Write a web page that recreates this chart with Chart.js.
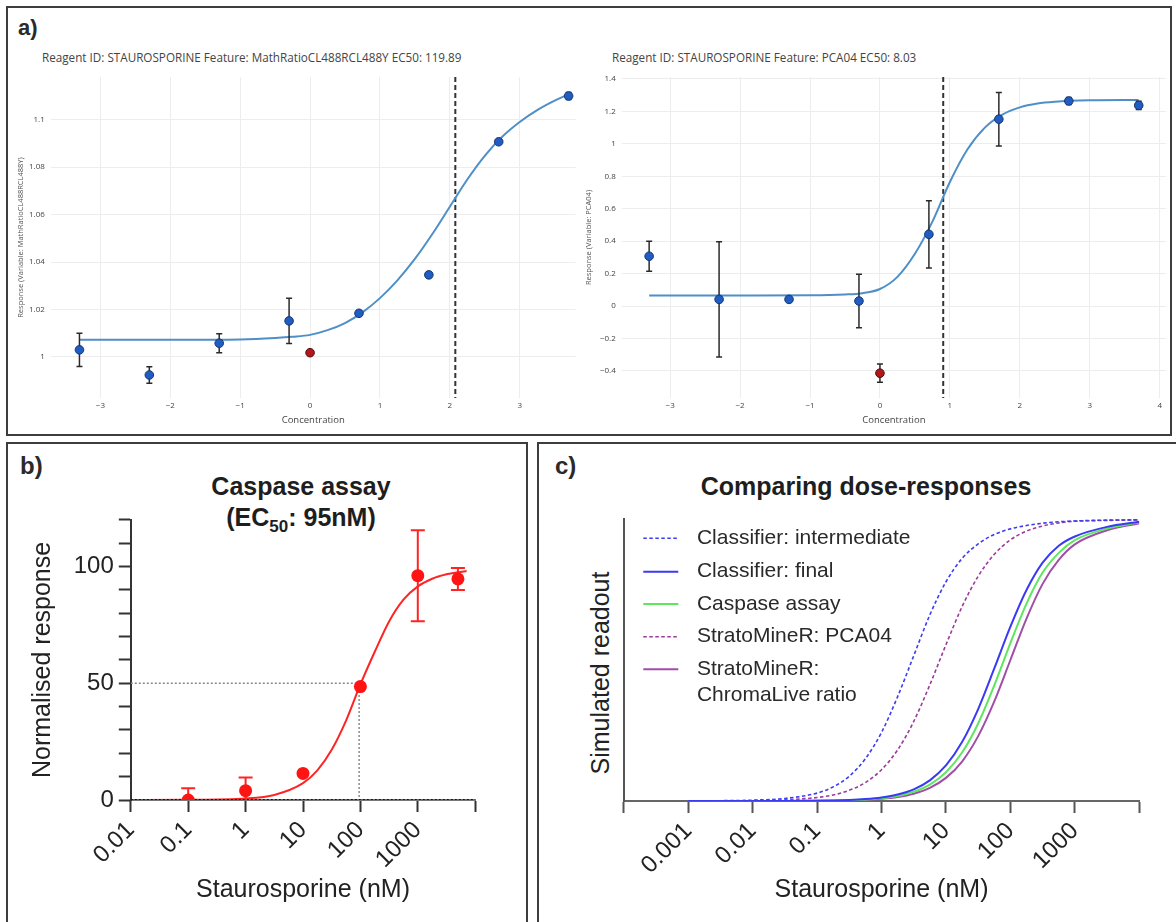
<!DOCTYPE html>
<html><head><meta charset="utf-8">
<script src="https://cdn.jsdelivr.net/npm/chart.js@4.4.1/dist/chart.umd.min.js"></script>
<style>
html,body{margin:0;padding:0;background:#fff;}
body{width:1176px;height:922px;position:relative;overflow:hidden;font-family:'Liberation Sans',Arial,sans-serif;}
.box{position:absolute;border:2px solid #3d3d3d;box-sizing:border-box;}
canvas{position:absolute;}
.lbl{position:absolute;font-weight:bold;color:#2a2a2a;white-space:nowrap;}
.ptitle{position:absolute;font-family:'Open Sans',sans-serif;font-size:11.7px;line-height:12px;color:#444;white-space:nowrap;}
.ttl{position:absolute;font-weight:bold;font-size:25px;line-height:25px;color:#1e1e1e;white-space:nowrap;transform:translateX(-50%);}
.ttl sub{font-size:17px;line-height:0;vertical-align:-6px;}
.vt{position:absolute;font-size:25px;line-height:25px;color:#222;white-space:nowrap;transform:translate(-50%,-50%) rotate(-90deg);}
</style></head>
<body>
<div class="box" style="left:6px;top:6px;width:1166px;height:430px"></div>
<div class="box" style="left:6px;top:442px;width:522px;height:500px"></div>
<div class="box" style="left:537px;top:442px;width:700px;height:500px"></div>

<div class="lbl" style="left:18px;top:17px;font-size:22px;line-height:22px">a)</div>
<div class="lbl" style="left:20px;top:454px;font-size:24px;line-height:24px">b)</div>
<div class="lbl" style="left:555px;top:454px;font-size:24px;line-height:24px">c)</div>

<div class="ptitle" style="left:42px;top:51px">Reagent ID: STAUROSPORINE Feature: MathRatioCL488RCL488Y EC50: 119.89</div>
<div class="ptitle" style="left:612px;top:51px">Reagent ID: STAUROSPORINE Feature: PCA04 EC50: 8.03</div>

<div class="ttl" style="left:301px;top:474px">Caspase assay</div>
<div class="ttl" style="left:301px;top:505px">(EC<sub>50</sub>: 95nM)</div>
<div class="ttl" style="left:866px;top:474px">Comparing dose-responses</div>
<div class="vt" style="left:600px;top:673px">Simulated readout</div>

<canvas id="cA1" width="590" height="440" style="left:0;top:0"></canvas>
<canvas id="cA2" width="596" height="440" style="left:580px;top:0"></canvas>
<canvas id="cB" width="530" height="482" style="left:0;top:440px"></canvas>
<canvas id="cC" width="636" height="482" style="left:540px;top:440px"></canvas>

<script>
// ---------- Panel a, left: MathRatioCL488RCL488Y ----------
const a1Conc = [-3.3, -2.3, -1.3, -0.3, 0.7, 1.7, 2.7, 3.7];
const a1Resp = [1.003, 0.9924, 1.0058, 1.0152, 1.0184, 1.0346, 1.0907, 1.1100];
const a1Err  = [0.007, 0.0035, 0.004, 0.0095, 0.001, 0.0008, 0.0008, 0.0015];
const a1CtrlConc = [0];
const a1CtrlResp = [1.0018];
const a1CtrlErr  = [0.0008];
const a1FitConc = [-3.3, -2, -1, -0.5, -0.25, 0, 0.25, 0.5, 0.75, 1, 1.25, 1.5, 1.75, 2, 2.25, 2.5, 2.75, 3, 3.25, 3.5, 3.7];
const a1FitResp = [1.0072, 1.0072, 1.0074, 1.0080, 1.0085, 1.0093, 1.0113, 1.0143, 1.0188, 1.0248, 1.0323, 1.0413, 1.0518, 1.0633, 1.0748, 1.0848, 1.0928, 1.0990, 1.1040, 1.1080, 1.1107];
const a1EC50 = 119.89;
const a1XTicks = [-3, -2, -1, 0, 1, 2, 3];
const a1XLabels = ['\u22123', '\u22122', '\u22121', '0', '1', '2', '3'];
const a1YTicks = [1, 1.02, 1.04, 1.06, 1.08, 1.1];
const a1YLabels = ['1', '1.02', '1.04', '1.06', '1.08', '1.1'];

// ---------- Panel a, right: PCA04 ----------
const a2Conc = [-3.3, -2.3, -1.3, -0.3, 0.7, 1.7, 2.7, 3.7];
const a2Resp = [0.307, 0.041, 0.041, 0.031, 0.442, 1.152, 1.264, 1.237];
const a2Err  = [0.092, 0.355, 0.012, 0.165, 0.207, 0.165, 0.022, 0.025];
const a2CtrlConc = [0];
const a2CtrlResp = [-0.414];
const a2CtrlErr  = [0.056];
const a2FitConc = [-3.3, -2, -1, -0.5, -0.25, 0, 0.25, 0.5, 0.75, 1, 1.25, 1.5, 1.75, 2, 2.25, 2.5, 3, 3.7];
const a2FitResp = [0.065, 0.065, 0.066, 0.071, 0.079, 0.105, 0.18, 0.322, 0.52, 0.765, 0.965, 1.100, 1.180, 1.225, 1.249, 1.260, 1.268, 1.27];
const a2EC50 = 8.03;
const a2XTicks = [-3, -2, -1, 0, 1, 2, 3, 4];
const a2XLabels = ['\u22123', '\u22122', '\u22121', '0', '1', '2', '3', '4'];
const a2YTicks = [-0.4, -0.2, 0, 0.2, 0.4, 0.6, 0.8, 1, 1.2, 1.4];
const a2YLabels = ['\u22120.4', '\u22120.2', '0', '0.2', '0.4', '0.6', '0.8', '1', '1.2', '1.4'];

// ---------- Panel b: Caspase assay ----------
const bConc = [0.1, 1, 10, 100, 1000, 5000];
const bResp = [0, 4.0, 11.4, 48.6, 96.1, 94.7];
const bErr  = [5.0, 5.6, 0, 0, 19.5, 4.7];
const bFitLogConc = [-2, -1, 0, 0.5, 1, 1.25, 1.5, 1.75, 2, 2.25, 2.5, 2.75, 3, 3.25, 3.5, 3.7, 3.85];
const bFitResp = [0, 0.07, 0.62, 2.15, 7.2, 12.7, 21.5, 34, 49.5, 63.5, 76.5, 85.8, 91.5, 94.8, 96.7, 97.6, 98.1];
const bEC50 = 95;
const bXTicks = [0.01, 0.1, 1, 10, 100, 1000, 10000];
const bXLabels = ['0.01', '0.1', '1', '10', '100', '1000', ''];
const bYTicks = [0, 10, 20, 30, 40, 50, 60, 70, 80, 90, 100, 110, 120];
const bYLabels = ['0', '', '', '', '', '50', '', '', '', '', '100', '', ''];

// ---------- Panel c: Comparing dose-responses ----------
const cLogConc = [-3, -2.5, -2, -1.5, -1, -0.75, -0.5, -0.25, 0, 0.25, 0.5, 0.75, 1, 1.25, 1.5, 1.75, 2, 2.25, 2.5, 2.75, 3, 3.5, 4];
const cIntermediate = [0.000, 0.001, 0.003, 0.009, 0.028, 0.050, 0.088, 0.150, 0.243, 0.370, 0.515, 0.660, 0.777, 0.860, 0.912, 0.945, 0.965, 0.977, 0.985, 0.990, 0.993, 0.996, 0.997];
const cFinal        = [0, 0, 0.0001, 0.0003, 0.0011, 0.0021, 0.0038, 0.0070, 0.0127, 0.023, 0.0413, 0.0732, 0.126, 0.209, 0.326, 0.470, 0.618, 0.748, 0.845, 0.905, 0.938, 0.972, 0.990];
const cCaspase      = [0, 0, 0.0001, 0.0002, 0.0009, 0.0017, 0.0030, 0.0055, 0.010, 0.018, 0.0328, 0.0584, 0.102, 0.172, 0.275, 0.410, 0.560, 0.700, 0.810, 0.880, 0.925, 0.966, 0.988];
const cPCA04        = [0.0001, 0.0004, 0.0012, 0.0039, 0.0123, 0.0216, 0.0378, 0.0654, 0.111, 0.181, 0.282, 0.412, 0.554, 0.689, 0.797, 0.875, 0.926, 0.957, 0.975, 0.986, 0.992, 0.995, 0.997];
const cChroma       = [0, 0, 0, 0.0002, 0.0007, 0.0013, 0.0024, 0.0043, 0.0079, 0.0143, 0.0259, 0.0465, 0.082, 0.140, 0.230, 0.353, 0.500, 0.647, 0.770, 0.855, 0.910, 0.960, 0.985];
const cLabels = ['Classifier: intermediate', 'Classifier: final', 'Caspase assay', 'StratoMineR: PCA04', 'StratoMineR: ChromaLive ratio'];
const cXTicks = [1e-4, 1e-3, 1e-2, 1e-1, 1, 10, 100, 1000, 10000];
const cXLabels = ['', '0.001', '0.01', '0.1', '1', '10', '100', '1000', ''];

// ---------- helpers ----------
const pts = (xs, ys) => xs.map((x, i) => ({x: x, y: ys[i]}));
const logPts = (ls, ys) => ls.map((l, i) => ({x: Math.pow(10, l), y: ys[i]}));
const setTicks = arr => (s => { s.ticks = arr.map(v => ({value: v})); });

const errorBarPlugin = {
  id: 'errorBarPlugin',
  beforeDatasetDraw(chart, args) {
    const ds = chart.data.datasets[args.index];
    if (!ds.errorBars) return;
    const xs = chart.scales[args.meta.xAxisID], ys = chart.scales[args.meta.yAxisID];
    const ctx = chart.ctx, a = chart.chartArea;
    ctx.save();
    ctx.beginPath(); ctx.rect(a.left, a.top, a.right - a.left, a.bottom - a.top); ctx.clip();
    ctx.strokeStyle = ds.errorColor; ctx.lineWidth = ds.errorWidth;
    ds.data.forEach((p, i) => {
      const e = ds.errorBars[i]; if (!e) return;
      const x = xs.getPixelForValue(p.x);
      const yt = ys.getPixelForValue(p.y + e), yb = ys.getPixelForValue(p.y - e);
      const c = ds.capHalf;
      ctx.beginPath();
      ctx.moveTo(x, yt); ctx.lineTo(x, yb);
      ctx.moveTo(x - c, yt); ctx.lineTo(x + c, yt);
      ctx.moveTo(x - c, yb); ctx.lineTo(x + c, yb);
      ctx.stroke();
    });
    ctx.restore();
  }
};
const ec50LinePlugin = {
  id: 'ec50Line',
  beforeDatasetsDraw(chart, args, opts) {
    if (opts.value == null) return;
    const x = chart.scales.x.getPixelForValue(opts.value);
    const a = chart.chartArea, ctx = chart.ctx;
    ctx.save(); ctx.strokeStyle = opts.color; ctx.lineWidth = opts.width; ctx.setLineDash(opts.dash);
    ctx.beginPath(); ctx.moveTo(x, a.top); ctx.lineTo(x, a.bottom); ctx.stroke(); ctx.restore();
  }
};
const insideLegendPlugin = {
  id: 'insideLegend',
  afterDraw(chart, args, opts) {
    if (!opts.rows) return;
    const ctx = chart.ctx;
    ctx.save();
    opts.rows.forEach((y, k) => {
      const ds = chart.data.datasets[opts.order[k]];
      ctx.strokeStyle = ds.borderColor; ctx.lineWidth = ds.borderWidth;
      ctx.setLineDash(ds.borderDash || []);
      ctx.beginPath(); ctx.moveTo(opts.x0, y); ctx.lineTo(opts.x1, y); ctx.stroke();
      ctx.setLineDash([]);
      ctx.fillStyle = opts.color; ctx.font = opts.font; ctx.textBaseline = 'middle'; ctx.textAlign = 'left';
      const lines = opts.wrap[k];
      lines.forEach((t, j) => ctx.fillText(t, opts.tx, y + j * opts.lineGap));
    });
    ctx.restore();
  }
};
Chart.register(errorBarPlugin, ec50LinePlugin, insideLegendPlugin);

const plotlyFont = s => ({family: "'Open Sans', sans-serif", size: s});
const gpFont = s => ({family: "'Liberation Sans', Arial, sans-serif", size: s});

function plotlyChart(id, cfg) {
  return new Chart(document.getElementById(id), {
    type: 'scatter',
    data: {datasets: [
      {label: 'fit', data: pts(cfg.fitX, cfg.fitY), showLine: true, borderColor: '#4f8fc8', borderWidth: 2,
       pointRadius: 0, cubicInterpolationMode: 'monotone', order: 3},
      {label: 'data', data: pts(cfg.x, cfg.y), errorBars: cfg.err, errorColor: '#2a2a2a', errorWidth: 1.5, capHalf: 3,
       backgroundColor: '#1f5cc4', borderColor: '#17366e', borderWidth: 1, pointRadius: 4.3, order: 2},
      {label: 'control', data: pts(cfg.cx, cfg.cy), errorBars: cfg.cerr, errorColor: '#2a2a2a', errorWidth: 1.5, capHalf: 3,
       backgroundColor: '#b3161b', borderColor: '#4d0a0a', borderWidth: 1, pointRadius: 4.3, order: 1}
    ]},
    options: {
      responsive: false, animation: false, events: [],
      layout: {padding: cfg.pad},
      plugins: {legend: {display: false}, tooltip: {enabled: false},
        ec50Line: {value: Math.log10(cfg.ec50), color: '#333', width: 2, dash: [5, 3]}},
      scales: {
        x: {type: 'linear', min: cfg.xr[0], max: cfg.xr[1], afterBuildTicks: setTicks(cfg.xt), afterFit: s => { s.height = cfg.xh; },
            grid: {color: '#ededed', drawTicks: false}, border: {display: false},
            ticks: {padding: 3, color: '#444', font: plotlyFont(8), autoSkip: false, maxRotation: 0, callback: (v, i) => cfg.xl[i]},
            title: {display: true, text: 'Concentration', padding: 0, color: '#444', font: plotlyFont(9.5)}},
        y: {type: 'linear', min: cfg.yr[0], max: cfg.yr[1], afterBuildTicks: setTicks(cfg.yt), afterFit: s => { s.width = cfg.yw; },
            grid: {color: '#ededed', drawTicks: false}, border: {display: false},
            ticks: {padding: 6, color: '#444', font: plotlyFont(8), autoSkip: false, callback: (v, i) => cfg.yl[i]},
            title: {display: true, text: cfg.ytitle, padding: 0, color: '#555', font: plotlyFont(7.5)}}
      }
    }
  });
}

plotlyChart('cA1', {fitX: a1FitConc, fitY: a1FitResp, x: a1Conc, y: a1Resp, err: a1Err,
  cx: a1CtrlConc, cy: a1CtrlResp, cerr: a1CtrlErr, ec50: a1EC50,
  pad: {left: 15.9, top: 77, right: 14.4, bottom: 14}, xh: 28, yw: 34.9,
  xr: [-3.71, 3.80], yr: [0.9827, 1.118], xt: a1XTicks, xl: a1XLabels, yt: a1YTicks, yl: a1YLabels,
  ytitle: 'Response (Variable: MathRatioCL488RCL488Y)'});

plotlyChart('cA2', {fitX: a2FitConc, fitY: a2FitResp, x: a2Conc, y: a2Resp, err: a2Err,
  cx: a2CtrlConc, cy: a2CtrlResp, cerr: a2CtrlErr, ec50: a2EC50,
  pad: {left: 4.7, top: 77, right: 10, bottom: 14}, xh: 28, yw: 37.1,
  xr: [-3.691, 4.09], yr: [-0.567, 1.412], xt: a2XTicks, xl: a2XLabels, yt: a2YTicks, yl: a2YLabels,
  ytitle: 'Response (Variable: PCA04)'});

// Panel b
new Chart(document.getElementById('cB'), {
  type: 'scatter',
  data: {datasets: [
    {label: 'Caspase fit', data: logPts(bFitLogConc, bFitResp), showLine: true, borderColor: '#ff2424', borderWidth: 2,
     pointRadius: 0, cubicInterpolationMode: 'monotone', order: 3},
    {label: 'EC50 guide', data: [{x: bXTicks[0], y: 50}, {x: bEC50, y: 50}, {x: bEC50, y: 0}], showLine: true,
     borderColor: '#8a8a8a', borderWidth: 1.5, borderDash: [2, 2], pointRadius: 0, order: 4},
    {label: 'baseline', data: [{x: bXTicks[0], y: 0}, {x: bXTicks[bXTicks.length - 1], y: 0}], showLine: true,
     borderColor: '#111', borderWidth: 2, borderDash: [2, 2], pointRadius: 0, order: 2},
    {label: 'Caspase assay', data: pts(bConc, bResp), errorBars: bErr, errorColor: '#ff2424', errorWidth: 2, capHalf: 7,
     backgroundColor: '#ff1414', borderColor: '#ff1414', borderWidth: 0, pointRadius: 6.5, order: 1}
  ]},
  options: {
    responsive: false, animation: false, events: [],
    layout: {padding: {left: 28, top: 79.9, right: 54.8, bottom: 17}},
    plugins: {legend: {display: false}, tooltip: {enabled: false}},
    scales: {
      x: {type: 'logarithmic', min: 0.01, max: 10000, afterBuildTicks: setTicks(bXTicks), afterFit: s => { s.height = 105; },
          grid: {drawOnChartArea: false, drawTicks: true, tickLength: 12, tickWidth: 2, tickColor: '#333'},
          border: {display: true, color: '#777', width: 2},
          ticks: {minRotation: 45, maxRotation: 45, autoSkip: false, padding: 4, color: '#222', font: gpFont(24), callback: (v, i) => bXLabels[i]},
          title: {display: true, text: 'Staurosporine (nM)', padding: 0, color: '#222', font: gpFont(25)}},
      y: {type: 'linear', min: 0, max: 120, afterBuildTicks: setTicks(bYTicks), afterFit: s => { s.width = 102.8; },
          grid: {drawOnChartArea: false, drawTicks: true, tickLength: 12, tickWidth: 2, tickColor: '#333'},
          border: {display: true, color: '#333', width: 2},
          ticks: {padding: 5, color: '#222', font: gpFont(24), autoSkip: false, callback: (v, i) => bYLabels[i]},
          title: {display: true, text: 'Normalised response', padding: 0, color: '#222', font: gpFont(25)}}
    }
  }
});

// Panel c
new Chart(document.getElementById('cC'), {
  type: 'scatter',
  data: {datasets: [
    {label: cLabels[0], data: logPts(cLogConc, cIntermediate), showLine: true, borderColor: '#3d3df2', borderWidth: 1.6, borderDash: [3.5, 2.5], pointRadius: 0, cubicInterpolationMode: 'monotone'},
    {label: cLabels[1], data: logPts(cLogConc, cFinal), showLine: true, borderColor: '#3a3af5', borderWidth: 2, pointRadius: 0, cubicInterpolationMode: 'monotone'},
    {label: cLabels[2], data: logPts(cLogConc, cCaspase), showLine: true, borderColor: '#5ee65e', borderWidth: 2, pointRadius: 0, cubicInterpolationMode: 'monotone'},
    {label: cLabels[3], data: logPts(cLogConc, cPCA04), showLine: true, borderColor: '#9c3a9c', borderWidth: 1.6, borderDash: [3.5, 2.5], pointRadius: 0, cubicInterpolationMode: 'monotone'},
    {label: cLabels[4], data: logPts(cLogConc, cChroma), showLine: true, borderColor: '#a04ea6', borderWidth: 2, pointRadius: 0, cubicInterpolationMode: 'monotone'}
  ]},
  options: {
    responsive: false, animation: false, events: [],
    layout: {padding: {left: 45, top: 79, right: 36.7, bottom: 17}},
    plugins: {legend: {display: false}, tooltip: {enabled: false},
      insideLegend: {rows: [98.3, 131.7, 164, 196.7, 229.3], order: [0, 1, 2, 3, 4],
        wrap: [[cLabels[0]], [cLabels[1]], [cLabels[2]], [cLabels[3]], ['StratoMineR:', 'ChromaLive ratio']],
        x0: 103.3, x1: 138.3, tx: 156.9, lineGap: 25.7, color: '#2a2a2a', font: "21px 'Liberation Sans', Arial, sans-serif"}},
    scales: {
      x: {type: 'logarithmic', min: 1e-4, max: 1e4, afterBuildTicks: setTicks(cXTicks), afterFit: s => { s.height = 104; },
          grid: {drawOnChartArea: false, drawTicks: true, tickLength: 12, tickWidth: 2, tickColor: '#555'},
          border: {display: true, color: '#666', width: 2},
          ticks: {minRotation: 45, maxRotation: 45, autoSkip: false, padding: 4, color: '#222', font: gpFont(24), callback: (v, i) => cXLabels[i]},
          title: {display: true, text: 'Staurosporine (nM)', padding: 0, color: '#222', font: gpFont(25)}},
      y: {type: 'linear', min: 0, max: 1, afterFit: s => { s.width = 38.7; },
          grid: {drawOnChartArea: false, drawTicks: false}, border: {display: true, color: '#555', width: 2},
          ticks: {display: false}}
    }
  }
});
</script>
</body></html>
